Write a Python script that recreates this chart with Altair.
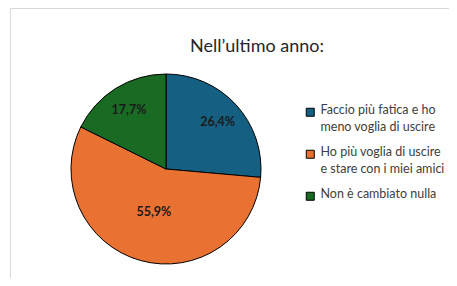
import altair as alt
import pandas as pd

categories = [
    "Faccio più fatica e ho\nmeno voglia di uscire",
    "Ho più voglia di uscire\ne stare con i miei amici",
    "Non è cambiato nulla",
]
values = [26.4, 55.9, 17.7]
labels = ["26,4%", "55,9%", "17,7%"]
colors = ["#156082", "#E97132", "#196B24"]
title_text = "Nell’ultimo anno:"

df = pd.DataFrame({"cat": categories, "val": values, "lab": labels,
                   "order": list(range(len(categories)))})

CX, CY, R = 158, 161, 95

pie = alt.Chart(df).mark_arc(stroke="black", strokeWidth=1, x=CX, y=CY, outerRadius=R).encode(
    theta=alt.Theta("val:Q", stack=True),
    order=alt.Order("order:Q"),
    color=alt.Color(
        "cat:N",
        sort=categories,
        scale=alt.Scale(domain=categories, range=colors),
        legend=alt.Legend(
            title=None,
            orient="none",
            legendX=296,
            legendY=98,
            symbolType="square",
            symbolSize=64,
            symbolStrokeColor="black",
            symbolStrokeWidth=1,
            symbolOpacity=1,
            labelFont="Lato",
            labelFontSize=12.5,
            labelColor="#404040",
            labelOffset=4,
            labelLimit=200,
            labelBaseline="top",
            rowPadding=12,
            labelExpr="split(datum.label, '\\n')",
        ),
    ),
)

text = alt.Chart(df).transform_joinaggregate(
    total="sum(val)"
).transform_window(
    cum="sum(val)", sort=[alt.SortField("order")]
).transform_calculate(
    ang="2*PI*(datum.cum - datum.val/2)/datum.total",
    lr="datum.order == 1 ? 45 : 70",
).mark_text(x=CX, y=CY, font="Lato", fontSize=12.5, fontWeight="bold",
            color="#1a1a1a").encode(
    text="lab:N",
    theta=alt.Theta("ang:Q", scale=None),
    radius=alt.Radius("lr:Q", scale=None),
)

title = alt.Chart(pd.DataFrame({"t": [title_text]})).mark_text(
    x=249, y=39, font="Lato", fontSize=18, color="#262626"
).encode(text="t:N")

frame = alt.Chart(pd.DataFrame({"a": [0]})).mark_rect(
    fill="white", stroke="#d9d9d9", strokeWidth=1
).encode(x=alt.value(2.5), x2=alt.value(447.5), y=alt.value(0.5), y2=alt.value(276.5))

chart = alt.layer(frame, pie, text, title).properties(
    width=441, height=270, autosize=alt.AutoSizeParams(type="none"), padding=0
).configure(
    style={"guide-label": {"lineHeight": 17, "dy": -8}},
    view=alt.ViewConfig(stroke="transparent"),
)

chart.save("out.html", embed_options={"renderer": "svg", "actions": False})
